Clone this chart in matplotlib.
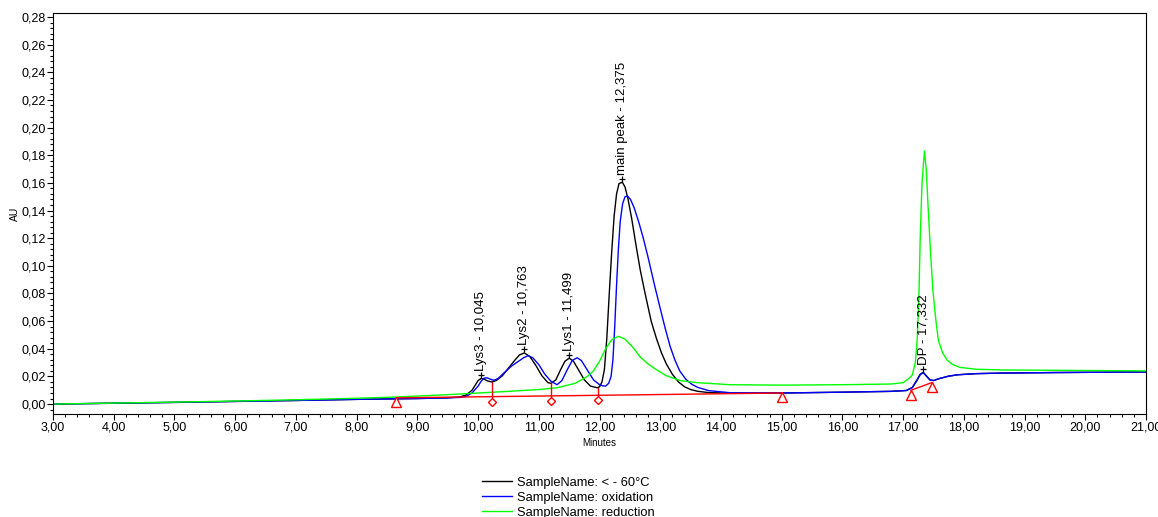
import numpy as np
import matplotlib
matplotlib.use("Agg")
import matplotlib.pyplot as plt
from matplotlib.ticker import MultipleLocator, FuncFormatter
from matplotlib.transforms import offset_copy

plt.rcParams['font.family'] = ['Liberation Sans', 'DejaVu Sans']

# black trace: SampleName: < - 60°C
t_cold = [3.0, 4.0, 5.0, 6.0, 7.0, 8.0, 9.0, 9.5, 9.7, 9.8, 9.9, 9.95, 10.0, 10.05,
          10.1, 10.15, 10.22, 10.3, 10.4, 10.5, 10.6, 10.68, 10.76, 10.85, 10.95,
          11.05, 11.15, 11.2, 11.28, 11.36, 11.43, 11.5, 11.57, 11.65, 11.75, 11.85,
          11.96, 12.0, 12.04, 12.08, 12.12, 12.16, 12.2, 12.24, 12.28, 12.32, 12.375,
          12.42, 12.47, 12.53, 12.6, 12.67, 12.75, 12.85, 12.94, 13.02, 13.1, 13.2,
          13.3, 13.4, 13.5, 13.62, 13.8, 14.2, 15.0, 16.0, 16.8, 17.05, 17.15, 17.22,
          17.28, 17.33, 17.38, 17.44, 17.5, 17.6, 17.75, 17.9, 18.2, 18.6, 19.5, 20.5,
          21.0]
au_cold = [0.0, 0.0006, 0.0012, 0.0019, 0.0026, 0.0034, 0.0040, 0.0045, 0.0052, 0.0065,
           0.0100, 0.0135, 0.0170, 0.0185, 0.0180, 0.0168, 0.0160, 0.0170, 0.0205,
           0.0260, 0.0315, 0.0355, 0.0370, 0.0345, 0.0280, 0.0205, 0.0155, 0.0150,
           0.0175, 0.0250, 0.0310, 0.0332, 0.0310, 0.0250, 0.0175, 0.0130, 0.0118,
           0.0125, 0.0160, 0.0250, 0.0480, 0.0800, 0.1100, 0.1360, 0.1520, 0.1595,
           0.1605, 0.1570, 0.1480, 0.1340, 0.1150, 0.0970, 0.0800, 0.0600, 0.0470,
           0.0370, 0.0290, 0.0215, 0.0160, 0.0125, 0.0105, 0.0092, 0.0083, 0.0078,
           0.0080, 0.0086, 0.0092, 0.0098, 0.0120, 0.0170, 0.0215, 0.0230, 0.0205,
           0.0175, 0.0170, 0.0185, 0.0202, 0.0212, 0.0220, 0.0224, 0.0228, 0.0231,
           0.0232]

# blue trace: SampleName: oxidation
t_ox = [3.0, 4.0, 5.0, 6.0, 7.0, 8.0, 9.0, 9.5, 9.7, 9.8, 9.9, 10.0, 10.05, 10.1,
        10.15, 10.2, 10.26, 10.33, 10.45, 10.55, 10.65, 10.75, 10.82, 10.9, 11.0,
        11.1, 11.2, 11.3, 11.38, 11.47, 11.55, 11.63, 11.7, 11.8, 11.9, 12.0, 12.05,
        12.1, 12.15, 12.19, 12.22, 12.25, 12.28, 12.31, 12.34, 12.38, 12.42, 12.46,
        12.51, 12.57, 12.65, 12.72, 12.8, 12.9, 13.0, 13.08, 13.16, 13.24, 13.32,
        13.42, 13.52, 13.62, 13.8, 14.15, 15.0, 16.0, 16.8, 17.05, 17.15, 17.22,
        17.28, 17.33, 17.38, 17.44, 17.5, 17.6, 17.75, 17.9, 18.2, 18.6, 19.5, 20.5,
        21.0]
au_ox = [0.0, 0.0006, 0.0012, 0.0019, 0.0026, 0.0034, 0.0040, 0.0045, 0.0048, 0.0055,
         0.0080, 0.0130, 0.0165, 0.0188, 0.0190, 0.0180, 0.0172, 0.0185, 0.0235,
         0.0275, 0.0305, 0.0335, 0.0350, 0.0335, 0.0285, 0.0215, 0.0165, 0.0140,
         0.0170, 0.0250, 0.0315, 0.0335, 0.0315, 0.0245, 0.0175, 0.0140, 0.0132,
         0.0130, 0.0150, 0.0200, 0.0320, 0.0560, 0.0860, 0.1120, 0.1320, 0.1450,
         0.1500, 0.1505, 0.1480, 0.1420, 0.1310, 0.1200, 0.1060, 0.0870, 0.0690,
         0.0550, 0.0420, 0.0320, 0.0240, 0.0180, 0.0143, 0.0120, 0.0097, 0.0082,
         0.0080, 0.0086, 0.0092, 0.0098, 0.0118, 0.0165, 0.0212, 0.0228, 0.0203,
         0.0175, 0.0170, 0.0185, 0.0202, 0.0212, 0.0220, 0.0224, 0.0228, 0.0231,
         0.0232]

# green trace: SampleName: reduction
t_red = [3.0, 4.0, 5.0, 6.0, 7.0, 8.0, 8.6, 9.0, 9.5, 10.0, 10.5, 11.0, 11.3, 11.6,
         11.8, 11.9, 12.0, 12.1, 12.2, 12.31, 12.42, 12.55, 12.67, 12.8, 12.95,
         13.1, 13.33, 13.6, 14.15, 15.0, 16.0, 16.8, 17.0, 17.08, 17.15, 17.2, 17.23,
         17.26, 17.28, 17.31, 17.35, 17.38, 17.41, 17.45, 17.49, 17.54, 17.58, 17.65,
         17.72, 17.82, 17.94, 18.2, 18.6, 19.5, 21.0]
au_red = [0.0, 0.0007, 0.0014, 0.0022, 0.0031, 0.0042, 0.0050, 0.0058, 0.0068, 0.0080,
          0.0092, 0.0105, 0.0118, 0.0150, 0.0200, 0.0240, 0.0310, 0.0400, 0.0465,
          0.0490, 0.0470, 0.0410, 0.0340, 0.0290, 0.0245, 0.0205, 0.0170, 0.0155,
          0.0140, 0.0137, 0.0140, 0.0145, 0.0155, 0.0180, 0.0210, 0.0300, 0.0460,
          0.0800, 0.1190, 0.1600, 0.1830, 0.1700, 0.1430, 0.1100, 0.0820, 0.0600,
          0.0460, 0.0370, 0.0320, 0.0285, 0.0265, 0.0252, 0.0247, 0.0244, 0.0240]

# integration baselines and peak drop lines (red)
base_t = [8.65, 15.00]
base_au = [0.0045, 0.0080]
dp_base_t = [17.13, 17.47]
dp_base_au = [0.0100, 0.0155]
drop_t = [10.23, 11.20, 11.97]
drop_top = [0.0160, 0.0150, 0.0118]
drop_bottom = [0.0054, 0.0060, 0.0066]

# peak labels
peak_names = ["Lys3 - 10,045", "Lys2 - 10,763", "Lys1 - 11,499", "main peak - 12,375", "DP - 17,332"]
peak_t = [10.045, 10.763, 11.499, 12.375, 17.332]
peak_au = [0.0185, 0.0370, 0.0332, 0.1605, 0.0230]

legend_labels = ["SampleName: < - 60°C", "SampleName: oxidation", "SampleName: reduction"]

fig = plt.figure(figsize=(11.58, 5.17), dpi=100)
ax = fig.add_axes([0.0458, 0.1992, 0.9439, 0.7756])

l1, = ax.plot(t_cold, au_cold, color='black', lw=1.0)
l2, = ax.plot(t_ox, au_ox, color='#0000ff', lw=1.0)
l3, = ax.plot(t_red, au_red, color='#00ff00', lw=1.0)

# baselines
ax.plot(base_t, base_au, color='red', lw=1.0)
ax.plot(dp_base_t, dp_base_au, color='red', lw=1.0)
for t, top, bot in zip(drop_t, drop_top, drop_bottom):
    ax.plot([t, t], [top, bot], color='red', lw=1.0)

below = offset_copy(ax.transData, fig=fig, x=0, y=-3.2, units='points')
ax.plot(base_t, base_au, ls='none', marker='^', ms=6.5, mfc='white', mec='red',
        mew=1.0, transform=below)
ax.plot(dp_base_t, dp_base_au, ls='none', marker='^', ms=6.5, mfc='white', mec='red',
        mew=1.0, transform=below)
ax.plot(drop_t, drop_bottom, ls='none', marker='D', ms=4.5, mfc='white', mec='red',
        mew=1.0, transform=offset_copy(ax.transData, fig=fig, x=0, y=-3.6, units='points'))

# peak label ticks and texts
tick_off = offset_copy(ax.transData, fig=fig, x=0, y=2.5, units='points')
ax.plot(peak_t, peak_au, ls='none', marker='|', ms=5, mew=0.9, color='black', transform=tick_off)
ax.plot(peak_t, peak_au, ls='none', marker='_', ms=5, mew=0.9, color='black', transform=tick_off)
for name, t, a in zip(peak_names, peak_t, peak_au):
    ax.annotate(name, xy=(t, a), xytext=(0, 5.5), textcoords='offset points',
                rotation=90, ha='center', va='bottom', fontsize=9.5)

ax.set_xlim(3, 21)
ax.set_ylim(-0.0072, 0.2829)
ax.xaxis.set_major_locator(MultipleLocator(1))
ax.xaxis.set_minor_locator(MultipleLocator(0.2))
ax.yaxis.set_major_locator(MultipleLocator(0.02))
ax.yaxis.set_minor_locator(MultipleLocator(0.004))
comma = FuncFormatter(lambda v, p: f"{v:.2f}".replace('.', ','))
ax.xaxis.set_major_formatter(comma)
ax.yaxis.set_major_formatter(comma)
ax.tick_params(which='major', length=4, width=0.8, labelsize=9.0, pad=1.5, direction='out')
ax.tick_params(which='minor', length=2.2, width=0.8, direction='out')
ax.tick_params(axis='x', top=False)
ax.tick_params(axis='y', right=False)
for s in ax.spines.values():
    s.set_linewidth(0.8)

ax.set_xlabel("Minutes", fontsize=7, labelpad=3)
ax.set_ylabel("AU", fontsize=7.5, labelpad=1)

fig.legend([l1, l2, l3], legend_labels, loc='upper left', bbox_to_anchor=(0.4162, 0.078),
           frameon=False, fontsize=9.3, handlelength=2.3, handletextpad=0.45,
           labelspacing=0.23, borderpad=0, borderaxespad=0)

fig.savefig("out.png", dpi=100)
